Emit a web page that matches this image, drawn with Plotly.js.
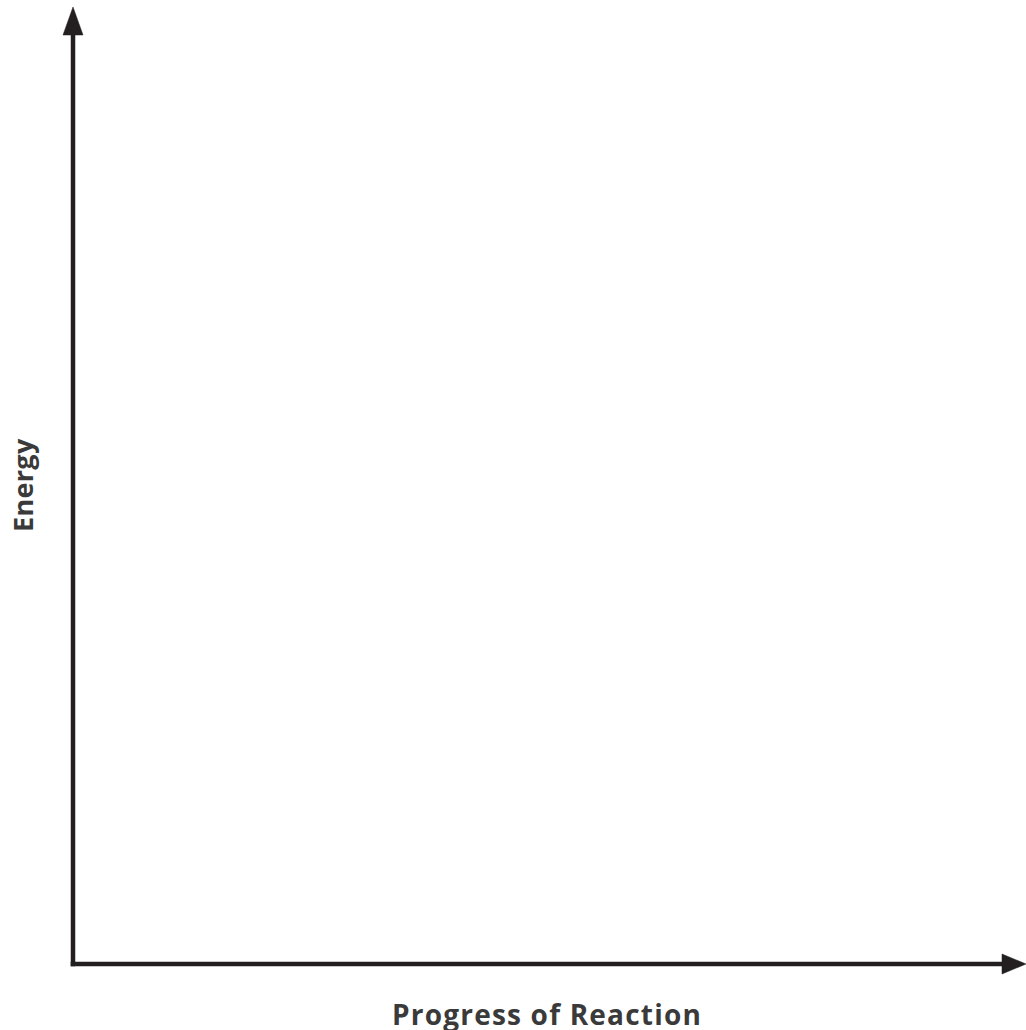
<!DOCTYPE html>
<html>
<head>
<meta charset="utf-8">
<script src="https://cdn.plot.ly/plotly-3.0.1.min.js"></script>
<style>
html,body{margin:0;padding:0;background:#fff;}
#chart{width:1026px;height:1030px;}
#chart .annotation[data-index="0"] text{letter-spacing:1.2px;}
#chart .annotation[data-index="1"] text{letter-spacing:0.3px;}
</style>
</head>
<body>
<div id="chart"></div>
<script>
// Axis labels of the (empty) energy diagram
const xLabel = "Progress of Reaction";
const yLabel = "Energy";
// Axis value ranges (empty diagram, no plotted series)
const xRange = [0, 1];
const yRange = [0, 1];

const W = 1026, H = 1030;
const margin = {l: 73, r: 0, t: 7, b: 66};
const pw = W - margin.l - margin.r;
const ph = H - margin.t - margin.b;
const px = v => v / pw;   // pixels -> paper x
const py = v => v / ph;   // pixels -> paper y

const axisColor = "#231f20";
const lw = 4.5;

const yTop = 1 - py(28);      // base of up arrow
const xRight = 1 - px(24);    // base of right arrow

const shapes = [
  {type: "line", xref: "paper", yref: "paper", x0: 0, x1: 0, y0: -py(2.3), y1: yTop,
   line: {color: axisColor, width: lw}},
  {type: "line", xref: "paper", yref: "paper", x0: -px(2.3), x1: xRight, y0: 0, y1: 0,
   line: {color: axisColor, width: lw}},
  {type: "path", xref: "paper", yref: "paper",
   path: `M ${-px(10)} ${yTop} L ${px(10)} ${yTop} L 0 1 Z`,
   fillcolor: axisColor, line: {color: axisColor, width: 0.5}},
  {type: "path", xref: "paper", yref: "paper",
   path: `M ${xRight} ${py(10)} L ${xRight} ${-py(10)} L 1 0 Z`,
   fillcolor: axisColor, line: {color: axisColor, width: 0.5}}
];

const fontX = {family: "'Open Sans', sans-serif", size: 28, color: "#3a3a3a", weight: 700};
const fontY = {family: "'Open Sans', sans-serif", size: 27, color: "#3a3a3a", weight: 700};

const annotations = [
  {text: "<b>" + xLabel + "</b>", xref: "paper", yref: "paper",
   x: px(547 - margin.l), y: -py(1014 - (H - margin.b)), showarrow: false,
   xanchor: "center", yanchor: "middle", font: fontX},
  {text: "<b>" + yLabel + "</b>", xref: "paper", yref: "paper",
   x: -px(73 - 22), y: py(H - margin.b - 485), showarrow: false, textangle: -90,
   xanchor: "center", yanchor: "middle", font: fontY}
];

const layout = {
  width: W, height: H,
  margin: margin,
  paper_bgcolor: "#ffffff", plot_bgcolor: "#ffffff",
  showlegend: false,
  xaxis: {range: xRange, visible: false, fixedrange: true},
  yaxis: {range: yRange, visible: false, fixedrange: true},
  shapes: shapes,
  annotations: annotations
};

Plotly.newPlot("chart", [{x: [], y: [], type: "scatter", mode: "lines"}], layout, {displayModeBar: false, staticPlot: true});
</script>
</body>
</html>
